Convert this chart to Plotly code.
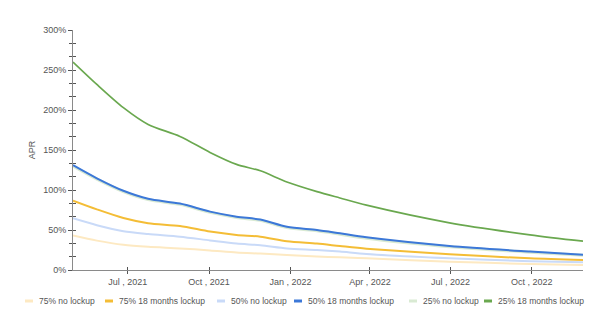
import plotly.graph_objects as go

dates = ["2021-04-30", "2021-05-27", "2021-06-26", "2021-07-24", "2021-08-29",
         "2021-10-02", "2021-11-01", "2021-11-28", "2021-12-28", "2022-01-31",
         "2022-02-26", "2022-03-28", "2022-06-30", "2022-09-29", "2022-11-28"]

apr_75_no = [43, 36.7, 31.5, 29, 27, 24.5, 22, 20.5, 18.7, 17, 15.8, 14.6, 10.4, 7.5, 6.3]
apr_75_18 = [86.7, 75.8, 65, 58.5, 55, 48, 43.8, 41.7, 36, 33, 30, 26.7, 19.6, 14.6, 12.5]
apr_50_no = [64.6, 56, 48.5, 45, 41.7, 37, 33, 31, 27, 25, 23, 20, 14.6, 11, 9.6]
apr_50_18 = [131, 114.6, 99, 89, 83, 73, 66.7, 63, 54, 50, 45.8, 40.8, 30, 23, 19]
apr_25_no = [130, 113.6, 98, 88, 82, 72, 65.7, 62, 53, 49, 44.8, 39.8, 29.2, 22.3, 18.3]
apr_25_18 = [260, 232, 203, 182, 167, 147, 132, 124, 110, 98, 90, 81, 59, 44, 36]

series = [
    ("75% no lockup", apr_75_no, "#fde9c2", 2),
    ("75% 18 months lockup", apr_75_18, "#f4bd36", 2),
    ("50% no lockup", apr_50_no, "#c9daf8", 2),
    ("25% no lockup", apr_25_no, "#d9ead3", 3),
    ("50% 18 months lockup", apr_50_18, "#3c78d8", 2),
    ("25% 18 months lockup", apr_25_18, "#6aa84f", 1.7),
]
legend_order = ["75% no lockup", "75% 18 months lockup", "50% no lockup",
                "50% 18 months lockup", "25% no lockup", "25% 18 months lockup"]

fig = go.Figure()
for name, vals, color, w in series:
    fig.add_trace(go.Scatter(x=dates, y=vals, mode="lines", name=name,
                             line=dict(color=color, width=w, shape="spline", smoothing=0.8),
                             showlegend=False, hoverinfo="skip"))

# overlay axes carrying inward ticks (to form crossing ticks)
fig.add_trace(go.Scatter(x=[], y=[], xaxis="x2", yaxis="y2", showlegend=False))

font = "Liberation Sans, Arial, sans-serif"
axcol = "#8a8a8a"
xr = ["2021-04-30", "2022-11-28"]
yr = [0, 300]

fig.update_layout(
    width=602, height=331,
    margin=dict(l=73, r=19, t=30, b=61),
    paper_bgcolor="white", plot_bgcolor="white",
    font=dict(family=font, size=9, color="#555555"),
    xaxis=dict(range=xr, type="date", showgrid=False, zeroline=False,
               showline=True, linecolor=axcol, linewidth=1,
               ticks="outside", ticklen=3, tickcolor="#555", tickwidth=1,
               dtick="M3", tick0="2021-07-01", tickformat="%b , %Y",
               tickfont=dict(size=9, color="#555")),
    yaxis=dict(range=yr, showgrid=False, zeroline=False,
               showline=True, linecolor=axcol, linewidth=1,
               ticks="outside", ticklen=4, tickcolor="#555", tickwidth=1,
               dtick=50, ticksuffix="%", tickfont=dict(size=9, color="#555"),
               minor=dict(dtick=50/3, tick0=0, ticks="outside", ticklen=3, tickcolor="#555"),
               title=dict(text="APR", font=dict(size=9, color="#555"), standoff=6)),
    xaxis2=dict(range=xr, type="date", overlaying="x", anchor="y2", side="bottom",
                showgrid=False, zeroline=False, showline=False,
                ticks="inside", ticklen=3, tickcolor="#555", tickwidth=1,
                dtick="M3", tick0="2021-07-01", showticklabels=False),
    yaxis2=dict(range=yr, overlaying="y", anchor="x2", side="left",
                showgrid=False, zeroline=False, showline=False,
                ticks="inside", ticklen=3, tickcolor="#555", tickwidth=1,
                dtick=50, showticklabels=False,
                minor=dict(dtick=50/3, tick0=0, ticks="inside", ticklen=3, tickcolor="#555")),
)

# manual legend (single compact row)
sym_x = [25, 105, 217, 294, 409, 484]
colors = {n: c for n, _, c, _ in series}
for name, sx in zip(legend_order, sym_x):
    fig.add_shape(type="line", xref="paper", yref="paper",
                  x0=(sx - 73) / 510, x1=(sx + 8 - 73) / 510,
                  y0=(270 - 301) / 240, y1=(270 - 301) / 240,
                  line=dict(color=colors[name], width=3))
    fig.add_annotation(text=name, xref="paper", yref="paper",
                       x=(sx + 12 - 73) / 510, y=(270 - 301) / 240,
                       xanchor="left", yanchor="middle", showarrow=False,
                       font=dict(size=8.5, color="#555555", family=font))

fig.write_html("out.html")
